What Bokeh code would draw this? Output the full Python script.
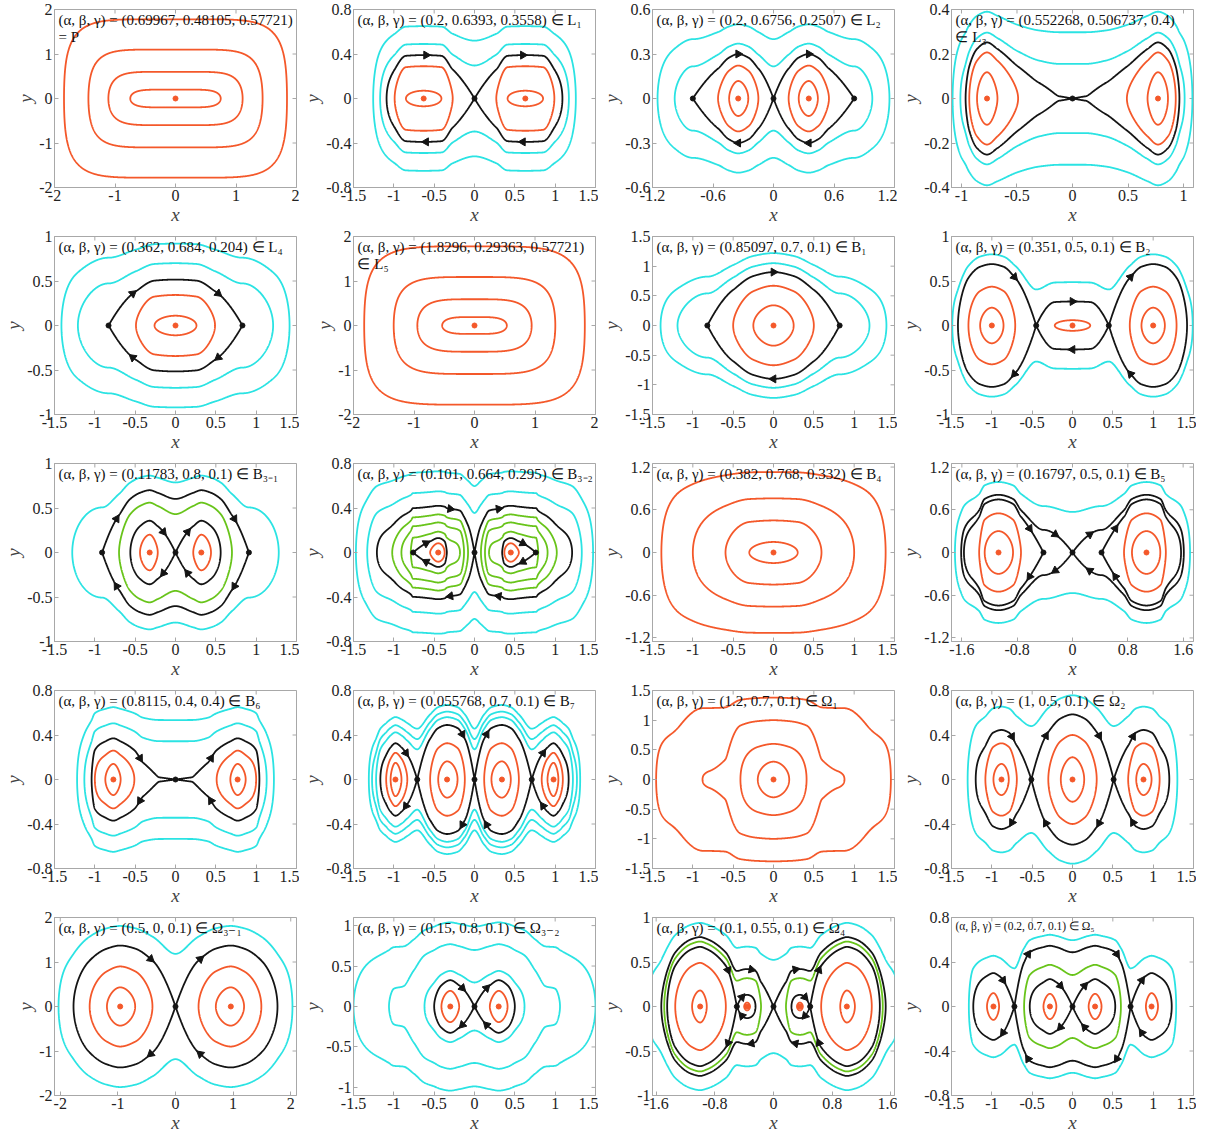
import numpy as np
from bokeh.plotting import figure
from bokeh.layouts import gridplot
from bokeh.models import FixedTicker, Label, Range1d
from bokeh.embed import file_html
from bokeh.resources import INLINE

# ------------------------------------------------------------------
# Data.  Every panel is the level set family of a
# first integral H(x,y)=F(y)+V(x).  V is given by knots (x, h): at x the
# orbit whose height above the main centre is h crosses the x axis.
# ORB = orbits round centres (orange), OUT = outer orbits (cyan),
# MID = intermediate orbits (green), SEP = separatrix levels (black).
# ------------------------------------------------------------------
T1 = ["(α, β, γ) = (0.69967, 0.48105, 0.57721)", "= P"]
XL1, YL1 = (-2, 2), (-2, 2)
XT1 = [-2, -1, 0, 1, 2]; YT1 = [-2, -1, 0, 1, 2]
KX1 = [0.72, 1.08, 1.45, 1.9]; KH1 = [0.2, 0.6, 1.1, 1.78]; PW1 = [6]; C41 = 0.6
ORB1 = [0.2, 0.6, 1.1, 1.78]; CEN1 = [0]

T2 = ["(α, β, γ) = (0.2, 0.6393, 0.3558) ∈ L₁"]
XL2, YL2 = (-1.5, 1.5), (-0.8, 0.8)
XT2 = [-1.5, -1, -0.5, 0, 0.5, 1, 1.5]; YT2 = [-0.8, -0.4, 0, 0.4, 0.8]
KX2 = [0, 0.27, 0.41, 0.63, 0.85, 0.99, 1.09, 1.17, 1.256, 1.6]
KH2 = [0.39, 0.29, 0.07, 0, 0.07, 0.29, 0.39, 0.49, 0.65, 1.6]
ORB2 = [0.07, 0.29]; SEP2 = [0.39]; OUT2 = [0.49, 0.65]
CEN2 = [0.63]; SAD2 = [0]; ARR2 = [(0, 0.6)]

T3 = ["(α, β, γ) = (0.2, 0.6756, 0.2507) ∈ L₂"]
XL3, YL3 = (-1.2, 1.2), (-0.6, 0.6)
XT3 = [-1.2, -0.6, 0, 0.6, 1.2]; YT3 = [-0.6, -0.3, 0, 0.3, 0.6]
KX3 = [0, 0.15, 0.25, 0.35, 0.44, 0.55, 0.80, 0.98, 1.15, 1.4]
KH3 = [0.30, 0.222, 0.118, 0, 0.118, 0.222, 0.30, 0.37, 0.50, 1.2]; KS3 = {6: 0.0}
ORB3 = [0.118, 0.222]; SEP3 = [0.30]; OUT3 = [0.37, 0.50]
CEN3 = [0.35]; SAD3 = [0, 0.80]; ARR3 = [(0, 0.35)]

T4 = ["(α, β, γ) = (0.552268, 0.506737, 0.4)", "∈ L₃"]
XL4, YL4 = (-1.09, 1.09), (-0.4, 0.4)
XT4 = [-1, -0.5, 0, 0.5, 1]; YT4 = [-0.4, -0.2, 0, 0.2, 0.4]
KX4 = [0, 0.12, 0.3, 0.49, 0.676, 0.77, 0.86, 0.93, 0.963, 1.01, 1.08, 1.3]
KH4 = [0.252, 0.2518, 0.242, 0.207, 0.118, 0, 0.118, 0.207, 0.252, 0.296, 0.39, 1.0]
ORB4 = [0.118, 0.207]; SEP4 = [0.252]; OUT4 = [0.296, 0.39]
CEN4 = [0.77]; SAD4 = [0]

T5 = ["(α, β, γ) = (0.362, 0.684, 0.204) ∈ L₄"]
XL5, YL5 = (-1.5, 1.5), (-1, 1)
XT5 = [-1.5, -1, -0.5, 0, 0.5, 1, 1.5]; YT5 = [-1, -0.5, 0, 0.5, 1]
KX5 = [0, 0.26, 0.49, 0.83, 1.21, 1.414, 1.7]
KH5 = [0, 0.11, 0.343, 0.516, 0.70, 0.92, 2.0]; KS5 = {3: 0.0}
ORB5 = [0.11, 0.343]; SEP5 = [0.516]; OUT5 = [0.70, 0.92]
CEN5 = [0]; SAD5 = [0.83]; ARR5 = [(0, 0.53)]

T6 = ["(α, β, γ) = (1.8296, 0.29363, 0.57721)", "∈ L₅"]
XL6, YL6 = (-2, 2), (-2, 2)
XT6 = [-2, -1, 0, 1, 2]; YT6 = [-2, -1, 0, 1, 2]
KX6 = [0.52, 0.97, 1.34, 1.8]; KH6 = [0.19, 0.59, 1.09, 1.78]; PW6 = [4, 6]; C46 = 0.6
ORB6 = [0.19, 0.59, 1.09, 1.78]; CEN6 = [0]

T7 = ["(α, β, γ) = (0.85097, 0.7, 0.1) ∈ B₁"]
XL7, YL7 = (-1.5, 1.5), (-1.5, 1.5)
XT7 = [-1.5, -1, -0.5, 0, 0.5, 1, 1.5]; YT7 = [-1.5, -1, -0.5, 0, 0.5, 1, 1.5]
KX7 = [0, 0.25, 0.5, 0.82, 1.19, 1.40, 1.7]
KH7 = [0, 0.34, 0.67, 0.90, 1.05, 1.22, 2.2]; KS7 = {3: 0.0}
ORB7 = [0.34, 0.67]; SEP7 = [0.90]; OUT7 = [1.05, 1.22]
CEN7 = [0]; SAD7 = [0.82]; ARR7 = [(0, 0.0)]

T8 = ["(α, β, γ) = (0.351, 0.5, 0.1) ∈ B₂"]
XL8, YL8 = (-1.5, 1.5), (-1, 1)
XT8 = [-1.5, -1, -0.5, 0, 0.5, 1, 1.5]; YT8 = [-1, -0.5, 0, 0.5, 1]
KX8 = [0, 0.22, 0.45, 0.71, 0.855, 1.0, 1.145, 1.29, 1.42, 1.49, 1.8]
KH8 = [0.635, 0.6378, 0.69, 0.436, 0.2, 0, 0.2, 0.436, 0.69, 0.80, 2.0]
ORB8 = [(0.6378, 0, 0.4), (0.2, 0.6, 2), (0.436, 0.6, 2)]; SEP8 = [0.69]; OUT8 = [0.80]
CEN8 = [0, 1.0]; SAD8 = [0.45]; ARR8 = [(0, 0.72), (0, 0.0)]

T9 = ["(α, β, γ) = (0.11783, 0.8, 0.1) ∈ B₃₋₁"]
XL9, YL9 = (-1.5, 1.5), (-1, 1)
XT9 = [-1.5, -1, -0.5, 0, 0.5, 1, 1.5]; YT9 = [-1, -0.5, 0, 0.5, 1]
KX9 = [0, 0.22, 0.32, 0.44, 0.56, 0.70, 0.91, 1.28, 1.6]
KH9 = [0.357, 0.2, 0, 0.2, 0.357, 0.56, 0.70, 0.864, 2.0]; KS9 = {6: 0.0}
ORB9 = [0.2]; MID9 = [0.56]; SEP9 = [0.357, 0.70]; OUT9 = [0.864]
CEN9 = [0.32]; SAD9 = [0, 0.91]; ARR9 = [(0, 0.15), (1, 0.73)]

T10 = ["(α, β, γ) = (0.101, 0.664, 0.295) ∈ B₃₋₂"]
XL10, YL10 = (-1.5, 1.5), (-0.8, 0.8)
XT10 = [-1.5, -1, -0.5, 0, 0.5, 1, 1.5]; YT10 = [-0.8, -0.4, 0, 0.4, 0.8]
KX10 = [0, 0.08, 0.13, 0.18, 0.343, 0.37, 0.45, 0.55, 0.76, 0.79, 0.906, 1.02, 1.21, 1.33, 1.47, 1.7]
KH10 = [0.42, 0.342, 0.27, 0.187, 0.13, 0.083, 0, 0.083, 0.13, 0.187, 0.27, 0.342, 0.42, 0.55, 0.73, 2.0]
KS10 = {8: 0.0}
ORB10 = [0.083]; MID10 = [0.187, 0.27, 0.342]; SEP10 = [0.13, 0.42]; OUT10 = [0.55, 0.73]
CEN10 = [0.45]; SAD10 = [0, 0.76]; ARR10 = [(0, 0.6), (1, 0.3)]

T11 = ["(α, β, γ) = (0.382, 0.768, 0.332) ∈ B₄"]
XL11, YL11 = (-1.5, 1.5), (-1.25, 1.25)
XT11 = [-1.5, -1, -0.5, 0, 0.5, 1, 1.5]; YT11 = [-1.2, -0.6, 0, 0.6, 1.2]
KX11 = [0, 0.30, 0.595, 1.0, 1.39, 1.7]; KH11 = [0, 0.148, 0.45, 0.76, 1.13, 2.2]; C411 = 0.5
ORB11 = [0.148, 0.45, 0.76, 1.13]; CEN11 = [0]

T12 = ["(α, β, γ) = (0.16797, 0.5, 0.1) ∈ B₅"]
XL12, YL12 = (-1.75, 1.75), (-1.25, 1.25)
XT12 = [-1.6, -0.8, 0, 0.8, 1.6]; YT12 = [-1.2, -0.6, 0, 0.6, 1.2]
KX12 = [0, 0.42, 0.745, 0.86, 1.07, 1.27, 1.35, 1.57, 1.61, 1.70, 1.9]
KH12 = [0.81, 0.745, 0.55, 0.30, 0, 0.30, 0.55, 0.745, 0.81, 0.99, 2.0]; KS12 = {1: 0.0}
ORB12 = [0.30, 0.55]; SEP12 = [0.745, 0.81]; OUT12 = [0.99]
CEN12 = [1.07]; SAD12 = [0, 0.42]; ARR12 = [(1, 0.25), (0, 0.62)]

T13 = ["(α, β, γ) = (0.8115, 0.4, 0.4) ∈ B₆"]
XL13, YL13 = (-1.5, 1.5), (-0.8, 0.8)
XT13 = [-1.5, -1, -0.5, 0, 0.5, 1, 1.5]; YT13 = [-0.8, -0.4, 0, 0.4, 0.8]
KX13 = [0, 0.2, 0.4, 0.51, 0.68, 0.77, 0.87, 1.0, 1.04, 1.13, 1.22, 1.45]
KH13 = [0.37, 0.3695, 0.338, 0.26, 0.14, 0, 0.14, 0.26, 0.37, 0.505, 0.65, 1.5]
ORB13 = [0.14, 0.26]; SEP13 = [0.37]; OUT13 = [0.505, 0.65]
CEN13 = [0.77]; SAD13 = [0]; ARR13 = [(0, 0.44)]

T14 = ["(α, β, γ) = (0.055768, 0.7, 0.1) ∈ B₇"]
XL14, YL14 = (-1.5, 1.5), (-0.8, 0.8)
XT14 = [-1.5, -1, -0.5, 0, 0.5, 1, 1.5]; YT14 = [-0.8, -0.4, 0, 0.4, 0.8]
KX14 = [0, 0.12, 0.21, 0.34, 0.45, 0.55, 0.71, 0.833, 0.905, 0.98, 1.04, 1.095, 1.167, 1.22, 1.27, 1.31, 1.5]
KH14 = [0.49, 0.326, 0.163, 0, 0.163, 0.326, 0.49, 0.4377, 0.3956, 0.366, 0.3956, 0.4377, 0.49, 0.56, 0.61, 0.67, 1.5]
ORB14 = [0.163, 0.326, (0.3956, 0.8, 2), (0.4377, 0.8, 2)]; SEP14 = [0.49]; OUT14 = [0.56, 0.61, 0.67]
CEN14 = [0.34, 0.98]; SAD14 = [0, 0.71]; ARR14 = [(0, 0.15), (0, 0.85)]

T15 = ["(α, β, γ) = (1.2, 0.7, 0.1) ∈ Ω₁"]
XL15, YL15 = (-1.5, 1.5), (-1.5, 1.5)
XT15 = [-1.5, -1, -0.5, 0, 0.5, 1, 1.5]; YT15 = [-1.5, -1, -0.5, 0, 0.5, 1, 1.5]
KX15 = [0, 0.195, 0.41, 0.6, 0.75, 0.84, 0.88, 1.2, 1.455, 1.7]
KH15 = [0, 0.30, 0.60, 0.979, 0.995, 0.998, 1.0, 1.277, 1.38, 2.2]; C415 = 1.0
ORB15 = [0.30, 0.60, 1.0, 1.38]; CEN15 = [0]

T16 = ["(α, β, γ) = (1, 0.5, 0.1) ∈ Ω₂"]
XL16, YL16 = (-1.5, 1.5), (-0.8, 0.8)
XT16 = [-1.5, -1, -0.5, 0, 0.5, 1, 1.5]; YT16 = [-0.8, -0.4, 0, 0.4, 0.8]
KX16 = [0, 0.145, 0.3, 0.51, 0.69, 0.79, 0.88, 0.98, 1.08, 1.2, 1.30, 1.5]
KH16 = [0, 0.2, 0.40, 0.585, 0.5, 0.4045, 0.3795, 0.4045, 0.5, 0.585, 0.757, 1.5]
ORB16 = [(0.2, 0, 0.45), (0.40, 0, 0.45), (0.4045, 0.6, 2), (0.5, 0.6, 2)]
SEP16 = [0.585]; OUT16 = [0.757]
CEN16 = [0, 0.88]; SAD16 = [0.51]; ARR16 = [(0, 0.33), (0, 0.75)]

T17 = ["(α, β, γ) = (0.5, 0, 0.1) ∈ Ω₃₋₁"]
XL17, YL17 = (-2.1, 2.1), (-2, 2)
XT17 = [-2, -1, 0, 1, 2]; YT17 = [-2, -1, 0, 1, 2]
KX17 = [0, 0.4, 0.70, 0.96, 1.19, 1.49, 1.77, 2.03, 2.3]
KH17 = [1.37, 0.90, 0.43, 0, 0.43, 0.90, 1.37, 1.81, 3.0]
ORB17 = [0.43, 0.90]; SEP17 = [1.37]; OUT17 = [1.81]
CEN17 = [0.96]; SAD17 = [0]; ARR17 = [(0, 0.43)]

T18 = ["(α, β, γ) = (0.15, 0.8, 0.1) ∈ Ω₃₋₂"]
XL18, YL18 = (-1.5, 1.5), (-1.1, 1.1)
XT18 = [-1.5, -1, -0.5, 0, 0.5, 1, 1.5]; YT18 = [-1, -0.5, 0, 0.5, 1]
KX18 = [0, 0.19, 0.30, 0.41, 0.50, 0.62, 0.75, 0.88, 1.0, 1.06, 1.5, 1.7]
KH18 = [0.325, 0.193, 0, 0.193, 0.325, 0.44, 0.625, 0.728, 0.738, 0.77, 1.04, 2.0]
ORB18 = [0.193]; SEP18 = [0.325]; OUT18 = [0.44, 0.77, 1.04]
CEN18 = [0.30]; SAD18 = [0]; ARR18 = [(0, 0.15)]

T19 = ["(α, β, γ) = (0.1, 0.55, 0.1) ∈ Ω₄"]
XL19, YL19 = (-1.65, 1.65), (-1, 1)
XT19 = [-1.6, -0.8, 0, 0.8, 1.6]; YT19 = [-1, -0.5, 0, 0.5, 1]
KX19 = [0, 0.17, 0.245, 0.32, 0.36, 0.40, 0.5, 0.65, 0.91, 1.0, 1.11, 1.34, 1.45, 1.49, 1.53, 1.72, 1.9]
KH19 = [0.78, 0.73, 0.67, 0.6585, 0.657, 0.6585, 0.67, 0.49, 0.18, 0, 0.18, 0.49, 0.67, 0.73, 0.78, 0.94, 2.0]
ORB19 = [(0.18, 0.6, 2), (0.49, 0.6, 2), (0.6585, 0, 0.45)]; MID19 = [0.73]
SEP19 = [0.67, 0.78]; OUT19 = [0.94]
CEN19 = [0.36, 1.0]; SAD19 = [0, 0.5]; ARR19 = [(1, 0.3), (0, 0.62), (0, 0.43)]

T20 = ["(α, β, γ) = (0.2, 0.7, 0.1) ∈ Ω₅"]
XL20, YL20 = (-1.5, 1.5), (-0.8, 0.8)
XT20 = [-1.5, -1, -0.5, 0, 0.5, 1, 1.5]; YT20 = [-0.8, -0.4, 0, 0.4, 0.8]
KX20 = [0, 0.2, 0.28, 0.36, 0.53, 0.6, 0.72, 0.91, 0.98, 1.06, 1.23, 1.285, 1.5]
KH20 = [0.246, 0.114, 0, 0.114, 0.246, 0.375, 0.546, 0.4716, 0.456, 0.4716, 0.546, 0.645, 1.5]
ORB20 = [0.114, (0.4716, 0.8, 2)]; MID20 = [0.375]; SEP20 = [0.246, 0.546]; OUT20 = [0.645]
CEN20 = [0.28, 0.98]; SAD20 = [0, 0.72]; ARR20 = [(0, 0.15), (1, 0.55), (1, 0.86)]

# ------------------------------------------------------------------
ORANGE = "#F4582A"
CYAN = "#2BE3E3"
GREEN = "#68C41A"
BLACK = "#141414"
FRAME = "#a8a8a8"
LW = 1.8
FW, FH = 299, 227
BL, BR, BT, BB = 40, 3, 9, 38
SERIF = "Liberation Serif"


def get(i, k, default=None):
    return globals().get(f"{k}{i}", default)


def make_F(c4):
    def F(y):
        u = np.asarray(y, float) ** 2
        return u + c4 * u * u

    ug = np.linspace(0.0, 1.0, 40001) ** 2 * 60.0
    Fg = ug + c4 * ug * ug

    def Finv(f):
        return np.sqrt(np.interp(f, Fg, ug))

    def dF(y):
        return 2 * y + 4 * c4 * y ** 3

    return F, Finv, dF


def make_V(kx, kv, ks, pw):
    kx = np.asarray(kx, float)
    kv = np.asarray(kv, float)
    if pw:
        # relative least squares fit of an even power potential
        A = np.array([[x ** p / v for p in pw] for x, v in zip(kx, kv)])
        coef = np.linalg.lstsq(A, np.ones(len(kx)), rcond=None)[0]

        def Vp(x):
            ax = np.abs(np.asarray(x, float))
            return sum(c * ax ** p for c, p in zip(coef, pw))
        return Vp
    n = len(kx)
    h = np.diff(kx)
    d = np.diff(kv) / h
    m = np.zeros(n)
    for j in range(1, n - 1):
        if d[j - 1] * d[j] > 0:
            w1 = 2 * h[j] + h[j - 1]
            w2 = h[j] + 2 * h[j - 1]
            m[j] = (w1 + w2) / (w1 / d[j - 1] + w2 / d[j])
    m[-1] = d[-1]
    m[0] = 0.0
    for j, s in ks.items():
        m[j] = s

    def V(x):
        ax = np.abs(np.asarray(x, float))
        idx = np.clip(np.searchsorted(kx, ax, side="right") - 1, 0, n - 2)
        hh = h[idx]
        t = np.clip((ax - kx[idx]) / hh, 0.0, 1.0)
        t2, t3 = t * t, t * t * t
        val = ((2 * t3 - 3 * t2 + 1) * kv[idx] + (t3 - 2 * t2 + t) * hh * m[idx]
               + (-2 * t3 + 3 * t2) * kv[idx + 1] + (t3 - t2) * hh * m[idx + 1])
        dx = ax - kx[-1]
        out = kv[-1] + m[-1] * dx + 20.0 * (1 + abs(kv[-1])) * dx * dx
        return np.where(ax > kx[-1], out, val)
    return V


def level_curves(V, Finv, E, X, knots, lo=0.0, hi=99.0, N=700):
    xs = np.linspace(-X, X, 24001)
    g = E - V(xs)
    pos = g >= 0
    res = []
    i = 0
    n = len(xs)

    def root(a, b):
        ga = E - V(np.array([a]))[0]
        for _ in range(60):
            c = 0.5 * (a + b)
            gc = E - V(np.array([c]))[0]
            if (gc >= 0) == (ga >= 0):
                a, ga = c, gc
            else:
                b = c
        return 0.5 * (a + b)

    while i < n:
        if not pos[i]:
            i += 1
            continue
        j = i
        while j + 1 < n and pos[j + 1]:
            j += 1
        l = root(xs[i - 1], xs[i]) if i > 0 else xs[0]
        r = root(xs[j + 1], xs[j]) if j + 1 < n else xs[-1]
        i = j + 1
        mid = 0.5 * (l + r)
        if not (lo - 1e-9 <= abs(mid) <= hi) or r - l < 1e-6:
            continue
        t = np.linspace(0, 1, N)
        x = l + (r - l) * (1 - np.cos(np.pi * t)) / 2
        extra = [k for k in knots if l < k < r] + [-k for k in knots if l < -k < r]
        x = np.unique(np.concatenate([x, np.array(extra, float)]))
        y = Finv(np.maximum(E - V(x), 0.0))
        cx = np.concatenate([x, x[::-1], x[:1]])
        cy = np.concatenate([y, -y[::-1], y[:1]])
        res.append((cx.tolist(), cy.tolist()))
    return res


def lab(t):
    return f"{t:g}"


def build(i):
    c4 = get(i, "C4", 0.0)
    F, Finv, dF = make_F(c4)

    def hv(hh):
        return float(np.sign(hh) * F(abs(hh)))

    kx = get(i, "KX")
    kh = get(i, "KH")
    pw = get(i, "PW", None)
    V = make_V(kx, [hv(q) for q in kh], get(i, "KS", {}), pw)
    knots = [] if pw else [float(k) for k in kx]
    xl, yl = get(i, "XL"), get(i, "YL")
    xt, yt = get(i, "XT"), get(i, "YT")

    p = figure(width=FW, height=FH, x_range=Range1d(*xl), y_range=Range1d(*yl),
               output_backend="svg", toolbar_location=None,
               min_border_left=BL, min_border_right=BR, min_border_top=BT, min_border_bottom=BB)
    p.xgrid.visible = False
    p.ygrid.visible = False
    p.outline_line_color = FRAME
    p.background_fill_color = "white"
    p.border_fill_color = "white"
    for ax, ticks in ((p.xaxis, xt), (p.yaxis, yt)):
        ax.ticker = FixedTicker(ticks=ticks)
        ax.major_label_overrides = {float(t): lab(t) for t in ticks}
        ax.major_label_text_font = SERIF
        ax.major_label_text_font_size = "16px"
        ax.major_label_text_color = "#222222"
        ax.major_label_standoff = 2
        ax.axis_line_color = FRAME
        ax.major_tick_line_color = FRAME
        ax.major_tick_in = 4
        ax.major_tick_out = 0
        ax.minor_tick_line_color = None
        ax.axis_label_text_font = SERIF
        ax.axis_label_text_font_style = "italic"
        ax.axis_label_text_font_size = "19px"
        ax.axis_label_standoff = 0
    p.xaxis.axis_label = "x"
    p.yaxis.axis_label = "y"

    fw = FW - 52 - BR
    fh = FH - BT - BB - 2
    sx = fw / (xl[1] - xl[0])
    sy = fh / (yl[1] - yl[0])

    # mirrored tick marks on the top and right edges of the box
    tl = 4.0
    p.segment(x0=list(xt), y0=[yl[1]] * len(xt), x1=list(xt), y1=[yl[1] - tl / sy] * len(xt),
              line_color=FRAME, line_width=1)
    p.segment(x0=[xl[1]] * len(yt), y0=list(yt), x1=[xl[1] - tl / sx] * len(yt), y1=list(yt),
              line_color=FRAME, line_width=1)

    X = max(abs(xl[0]), abs(xl[1])) + 0.4
    for key, col in (("OUT", CYAN), ("MID", GREEN), ("ORB", ORANGE), ("SEP", BLACK)):
        XS, YS = [], []
        for spec in get(i, key, []):
            if isinstance(spec, tuple):
                hh, lo, hi = spec
            else:
                hh, lo, hi = spec, 0.0, 99.0
            for cx, cy in level_curves(V, Finv, hv(hh), X, knots, lo, hi):
                XS.append(cx)
                YS.append(cy)
        if XS:
            p.multi_line(xs=XS, ys=YS, line_color=col, line_width=LW)

    # arrows on separatrices (flow direction x' = dH/dy, y' = -dH/dx)
    sep = get(i, "SEP", [])
    ax_, ay_, aa_ = [], [], []
    for k, xa in get(i, "ARR", []):
        E = hv(sep[k])
        for xx in ([xa, -xa] if xa != 0 else [0.0]):
            gval = E - V(np.array([xx]))[0]
            if gval <= 0:
                continue
            yy0 = float(Finv(gval))
            eps = 1e-4
            dV = (V(np.array([xx + eps]))[0] - V(np.array([xx - eps]))[0]) / (2 * eps)
            for sg in (1, -1):
                yy = sg * yy0
                vx = dF(yy)
                vy = -dV
                th = np.arctan2(vy * sy, vx * sx)
                ax_.append(xx)
                ay_.append(yy)
                aa_.append(th - np.pi / 2)
    if ax_:
        p.scatter(ax_, ay_, marker="triangle", size=8, angle=aa_, color=BLACK)

    cen = get(i, "CEN", [])
    cx = sorted(set([c for c in cen] + [-c for c in cen]))
    if cx:
        p.scatter(cx, [0] * len(cx), size=5, color=ORANGE)
    sad = get(i, "SAD", [])
    sxp = sorted(set([c for c in sad] + [-c for c in sad]))
    if sxp:
        p.scatter(sxp, [0] * len(sxp), size=5, color=BLACK)

    # title inside the frame
    dxd = 4.0 / sx
    dyd = 2.0 / sy
    fs = "11.5px" if i == 20 else "15px"
    lh = 13.0 if i == 20 else 17.0
    for li, line in enumerate(get(i, "T")):
        p.add_layout(Label(x=xl[0] + dxd, y=yl[1] - dyd - li * lh / sy, text=line,
                           text_baseline="top", text_align="left", text_font=SERIF,
                           text_font_size=fs, text_color="#111111"))
    return p


figs = [build(i) for i in range(1, 21)]
grid = gridplot(figs, ncols=4, toolbar_location=None)
open("out.html", "w").write(file_html(grid, INLINE))
